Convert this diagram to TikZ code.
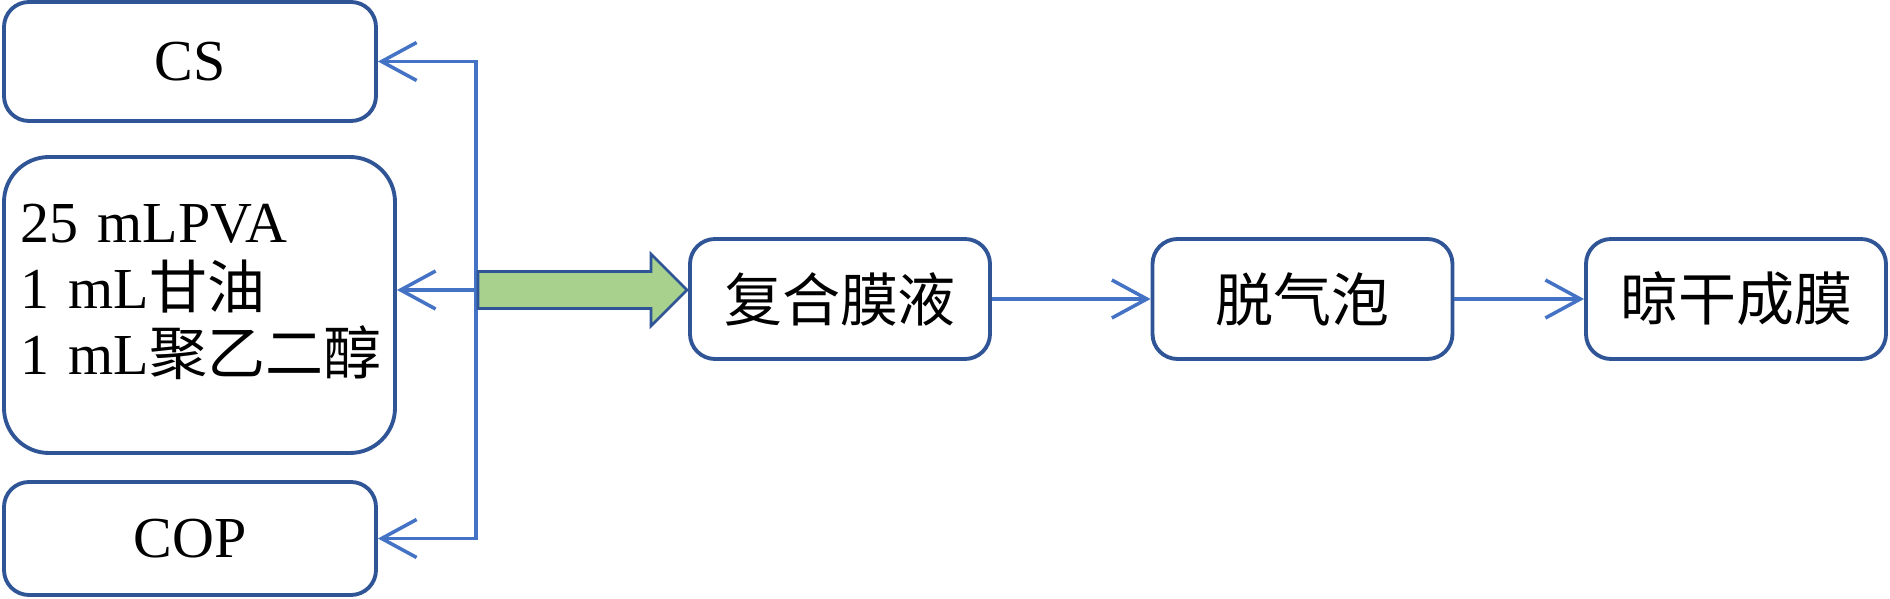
\documentclass[tikz,border=0pt]{standalone}
\usepackage{fontspec}
\setmainfont{Liberation Serif}
\newfontfamily\cjk{Noto Sans CJK SC}
\usetikzlibrary{arrows.meta}
\definecolor{borde}{HTML}{2F5597}
\definecolor{flecha}{HTML}{4472C4}
\definecolor{verde}{HTML}{A9D18E}
\tikzset{
  caja/.style={draw=borde, line width=2.2pt, rounded corners=0.5cm,
    minimum width=7.44cm, minimum height=2.38cm, font=\fontsize{33}{37.6}\selectfont},
  paso/.style={caja, minimum width=6cm, minimum height=2.4cm,
    font=\fontsize{33}{37.6}\selectfont\cjk},
  enlace/.style={draw=flecha, line width=2pt, -{Straight Barb[length=0.7cm,width=0.76cm]}},
}
\begin{document}
\begin{tikzpicture}
    \useasboundingbox (0,0) rectangle (37.8,11.98);
    % Materiales
    \node[caja] (cs) at (3.8,10.75) {CS};
    \node[caja, rounded corners=0.9cm, minimum width=7.82cm, minimum height=5.92cm,
      text width=7.4cm, inner xsep=0.21cm, text depth=3.27cm, align=left] (mezcla) at (3.99,5.88)
      {\hspace*{0.12cm}25 mLPVA\\\hspace*{0.12cm}1 mL{\cjk 甘油}\\\hspace*{0.12cm}1~mL{\cjk 聚乙二醇}};
    \node[caja, minimum height=2.26cm] (cop) at (3.8,1.21) {COP};
    % Pasos
    \node[paso] (liquido) at (16.8,6.0) {复合膜液};
    \node[paso] (desgas) at (26.05,6.0) {脱气泡};
    \node[paso] (secado) at (34.72,6.0) {晾干成膜};
    % Línea vertical de reparto
    \coordinate (bus) at (9.52,6.18);
    \draw[enlace] (bus |- cop.east) -- (bus |- cs.east) -- (cs.east);
    \draw[enlace] (bus |- cs.east) -- (bus |- cop.east) -- (cop.east);
    \draw[enlace] (bus) -- (bus -| mezcla.east);
    % Flecha gruesa
    \draw[borde, line width=1.5pt, fill=verde] (9.56,6.55) -- (13.02,6.55) -- (13.02,6.9)
      -- (13.74,6.18) -- (13.02,5.46) -- (13.02,5.81) -- (9.56,5.81) -- cycle;
    % Flechas entre pasos
    \draw[enlace] (liquido.east) -- (desgas.west);
    \draw[enlace] (desgas.east) -- (secado.west);
\end{tikzpicture}
\end{document}
